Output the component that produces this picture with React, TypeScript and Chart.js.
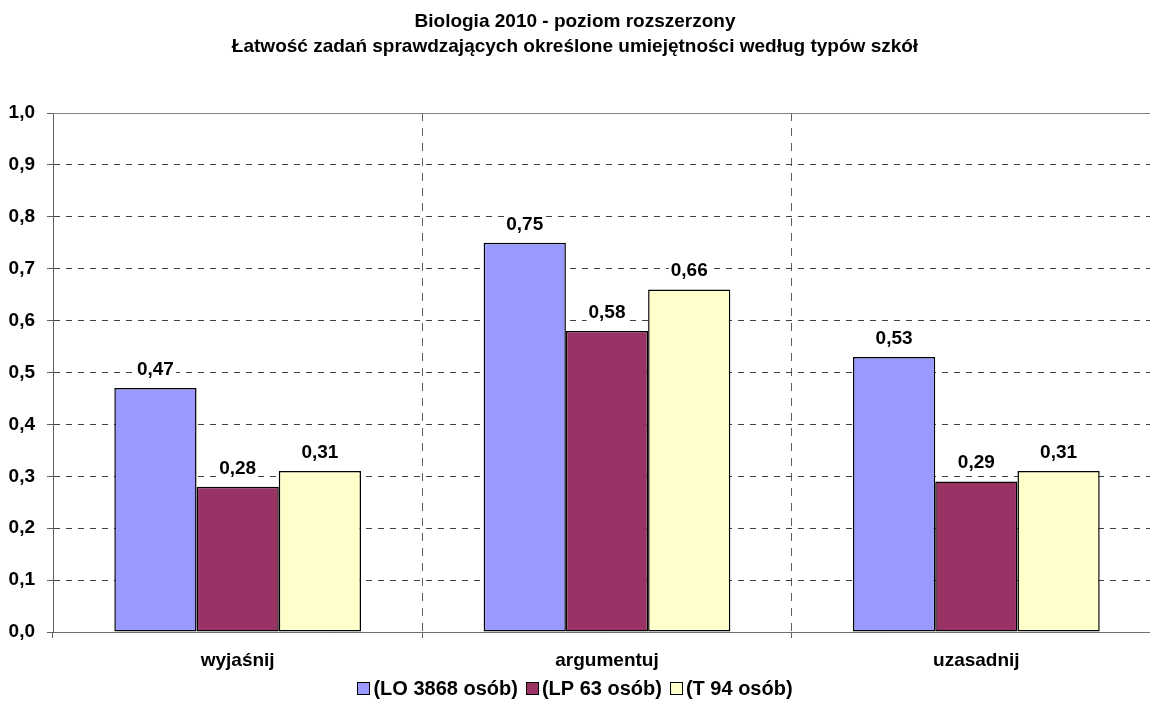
import React, { useEffect, useRef } from 'react';
import { Chart, registerables } from 'chart.js';

Chart.register(...registerables);

// ---- data ----
const titleLines = [
  'Biologia 2010 - poziom rozszerzony',
  'Łatwość zadań sprawdzających określone umiejętności według typów szkół',
];
const categories = ['wyjaśnij', 'argumentuj', 'uzasadnij'];
const seriesNames = ['(LO 3868 osób)', '(LP 63 osób)', '(T 94 osób)'];
const loValues = [0.47, 0.75, 0.53];
const lpValues = [0.28, 0.58, 0.29];
const tValues = [0.31, 0.66, 0.31];
const seriesColors = ['#9999FF', '#993366', '#FFFFCC'];
const yTickLabels = ['0,0', '0,1', '0,2', '0,3', '0,4', '0,5', '0,6', '0,7', '0,8', '0,9', '1,0'];

// ---- layout constants ----
const FONT_FAMILY = '"Liberation Sans", Arial, Helvetica, sans-serif';
const FONT_SIZE = 19;
const PAGE_W = 1150;
const PAGE_H = 722;
const SHIFT_X = 20; // canvas starts this far left of the page edge
const CANVAS_W = 1190;

const fmt = (v: number) => v.toFixed(2).replace('.', ',');

const decorPlugin = {
  id: 'decor',
  beforeDatasetsDraw(chart: any) {
    const { ctx, chartArea } = chart;
    // solid frame line along the top of the plot area
    ctx.save();
    ctx.strokeStyle = '#808080';
    ctx.lineWidth = 1;
    ctx.beginPath();
    const y = Math.round(chartArea.top) + 0.5;
    ctx.moveTo(chartArea.left, y);
    ctx.lineTo(chartArea.right, y);
    ctx.stroke();
    ctx.restore();
  },
  afterDatasetsDraw(chart: any) {
    const { ctx } = chart;
    ctx.save();
    ctx.font = `bold ${FONT_SIZE}px ${FONT_FAMILY}`;
    ctx.textAlign = 'center';
    ctx.textBaseline = 'alphabetic';
    chart.data.datasets.forEach((ds: any, di: number) => {
      const meta = chart.getDatasetMeta(di);
      meta.data.forEach((bar: any, i: number) => {
        const text = fmt(ds.data[i]);
        const w = ctx.measureText(text).width;
        const base = bar.y - 13;
        ctx.fillStyle = '#FFFFFF';
        ctx.fillRect(bar.x - w / 2 - 2, base - 15, w + 4, 19);
        ctx.fillStyle = '#000000';
        ctx.fillText(text, bar.x, base);
      });
    });
    ctx.restore();
  },
  afterDraw(chart: any) {
    const { ctx } = chart;
    const cx = PAGE_W / 2 + SHIFT_X;
    ctx.save();
    ctx.font = `bold ${FONT_SIZE}px ${FONT_FAMILY}`;
    ctx.fillStyle = '#000000';
    ctx.textBaseline = 'alphabetic';
    ctx.textAlign = 'center';
    ctx.fillText(titleLines[0], cx, 27);
    ctx.fillText(titleLines[1], cx, 52);

    // legend
    const box = 12;
    const boxGap = 4;
    const itemGap = 8;
    ctx.font = `bold 20px ${FONT_FAMILY}`;
    const widths = seriesNames.map((n) => ctx.measureText(n).width);
    const total =
      widths.reduce((a, b) => a + b, 0) + seriesNames.length * (box + boxGap) + itemGap * (seriesNames.length - 1);
    let x = cx - total / 2;
    const baseY = 695;
    ctx.textAlign = 'left';
    seriesNames.forEach((name, i) => {
      ctx.fillStyle = seriesColors[i];
      ctx.fillRect(Math.round(x) + 0.5, baseY - 13 + 0.5, box, box);
      ctx.strokeStyle = '#000000';
      ctx.lineWidth = 1;
      ctx.strokeRect(Math.round(x) + 0.5, baseY - 13 + 0.5, box, box);
      x += box + boxGap;
      ctx.fillStyle = '#000000';
      ctx.fillText(name, x, baseY);
      x += widths[i] + itemGap;
    });
    ctx.restore();
  },
};

export default function App() {
  const canvasRef = useRef<HTMLCanvasElement | null>(null);

  useEffect(() => {
    if (!canvasRef.current) return;
    const font = { family: FONT_FAMILY, size: FONT_SIZE, weight: 'bold' as const };
    const values = [loValues, lpValues, tValues];
    const chart = new Chart(canvasRef.current, {
      type: 'bar',
      data: {
        labels: categories,
        datasets: seriesNames.map((name, i) => ({
          label: name,
          data: values[i],
          backgroundColor: seriesColors[i],
          borderColor: '#000000',
          borderWidth: 1.5,
          borderSkipped: false,
          barPercentage: 1,
          categoryPercentage: 0.668,
        })),
      },
      options: {
        responsive: true,
        maintainAspectRatio: false,
        animation: false,
        events: [],
        layout: { padding: { top: 113, left: 0, right: 9, bottom: 50 } },
        plugins: {
          legend: { display: false },
          title: { display: false },
          tooltip: { enabled: false },
        },
        scales: {
          x: {
            grid: {
              offset: true,
              color: (c: any) => (c.index === 0 ? 'rgba(0,0,0,0)' : '#606060'),
              lineWidth: 1,
              tickLength: 6,
              tickColor: '#606060',
              tickBorderDash: [8, 7],
            },
            border: { display: true, color: '#707070', width: 1, dash: [8, 7] },
            ticks: { font, color: '#000000', padding: 11, maxRotation: 0 },
            afterFit: (s: any) => {
              s.height = 40;
            },
          },
          y: {
            min: 0,
            max: 1,
            ticks: {
              stepSize: 0.1,
              font,
              color: '#000000',
              padding: 12,
              callback: (_v: any, i: number) => yTickLabels[i],
            },
            grid: {
              color: (c: any) => (c.tick && c.tick.value >= 0.999 ? 'rgba(0,0,0,0)' : '#404040'),
              lineWidth: 1,
              tickLength: 6,
              tickColor: '#606060',
            },
            border: { display: true, color: '#606060', width: 1, dash: [6, 6] },
            afterFit: (s: any) => {
              s.width = 73;
            },
          },
        },
      },
      plugins: [decorPlugin],
    });
    return () => chart.destroy();
  }, []);

  return (
    <div
      style={{
        position: 'fixed',
        left: 0,
        top: 0,
        width: PAGE_W,
        height: PAGE_H,
        overflow: 'hidden',
        background: '#FFFFFF',
      }}
    >
      <div style={{ position: 'absolute', left: -SHIFT_X, top: 0, width: CANVAS_W, height: PAGE_H }}>
        <canvas ref={canvasRef} />
      </div>
    </div>
  );
}
